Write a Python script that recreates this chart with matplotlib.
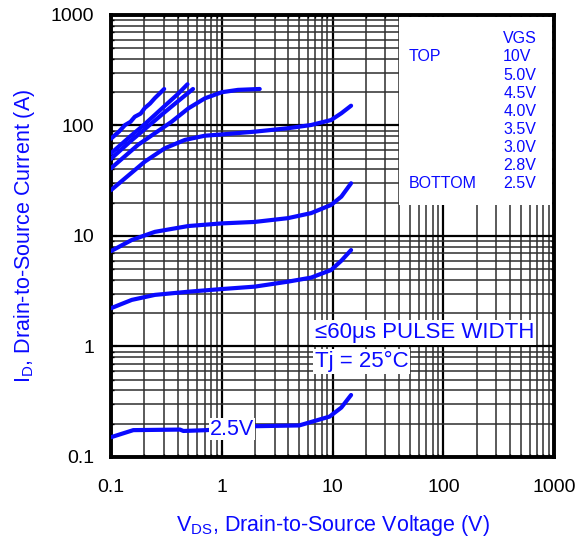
import matplotlib
matplotlib.use("Agg")
import matplotlib.pyplot as plt
from matplotlib.ticker import LogLocator, FuncFormatter
from matplotlib.patches import Rectangle

plt.rcParams["font.family"] = ["Liberation Sans", "DejaVu Sans"]

BLUE = "#0a0aff"

# output characteristics
vgs_labels = ["10V", "5.0V", "4.5V", "4.0V", "3.5V", "3.0V", "2.8V", "2.5V"]

vds_10 = [0.1, 0.118, 0.134, 0.15, 0.164, 0.185, 0.202, 0.225, 0.249, 0.275, 0.302]
id_10 = [76, 88, 101, 108, 120, 128, 144, 158, 177, 195, 214]

vds_50 = [0.1, 0.15, 0.2, 0.3, 0.4, 0.49]
id_50 = [56, 80, 102, 148, 192, 236]

vds_45 = [0.1, 0.15, 0.2, 0.3, 0.4, 0.55]
id_45 = [50, 72, 92, 130, 165, 214]

vds_40 = [0.1, 0.176, 0.352, 0.5, 0.703, 1.0, 1.4, 2.2]
id_40 = [41, 67, 108, 143, 176, 200, 210, 214]

vds_35 = [0.1, 0.134, 0.202, 0.306, 0.464, 0.703, 1.0, 1.98, 3.95, 6.4, 9.7, 12.0, 14.7]
id_35 = [26, 33.3, 47.1, 62.2, 74, 80.8, 83, 87.9, 94.4, 101, 112, 129, 151]

vds_30 = [0.1, 0.154, 0.249, 0.497, 1.0, 1.98, 3.95, 6.4, 9.7, 12.0, 14.7]
id_30 = [7.3, 9.2, 10.9, 12.3, 13.0, 13.4, 14.5, 16.1, 19.1, 22.7, 30]

vds_28 = [0.1, 0.154, 0.249, 0.497, 1.0, 1.98, 3.95, 6.4, 9.7, 12.0, 14.7]
id_28 = [2.22, 2.64, 2.93, 3.13, 3.31, 3.48, 3.86, 4.2, 4.92, 5.97, 7.46]

vds_25 = [0.1, 0.159, 0.42, 0.45, 0.73, 2.05, 5.0, 9.4, 12.0, 14.7]
id_25 = [0.151, 0.175, 0.177, 0.172, 0.175, 0.19, 0.193, 0.232, 0.28, 0.364]

curves = [
    (vds_10, id_10), (vds_50, id_50), (vds_45, id_45), (vds_40, id_40),
    (vds_35, id_35), (vds_30, id_30), (vds_28, id_28), (vds_25, id_25),
]

fig = plt.figure(figsize=(5.79, 5.43), dpi=100)
ax = fig.add_axes([0.1917, 0.1584, 0.7653, 0.814])

for vds, current in curves:
    ax.plot(vds, current, color=BLUE, lw=3.0, solid_capstyle="round",
            solid_joinstyle="round", zorder=4)

ax.set_xscale("log")
ax.set_yscale("log")
ax.set_xlim(0.1, 1000)
ax.set_ylim(0.1, 1000)

ax.xaxis.set_minor_locator(LogLocator(base=10, subs=range(2, 10), numticks=20))
ax.yaxis.set_minor_locator(LogLocator(base=10, subs=range(2, 10), numticks=20))
fmt = FuncFormatter(lambda v, p: "%g" % v)
ax.xaxis.set_major_formatter(fmt)
ax.yaxis.set_major_formatter(fmt)

ax.grid(True, which="major", color="black", lw=1.6, zorder=1)
ax.grid(True, which="minor", color="#2e2e2e", lw=1.1, zorder=1)
ax.set_axisbelow(True)

for side in ax.spines.values():
    side.set_linewidth(2.8)
ax.tick_params(which="both", direction="in", top=True, right=True, labelsize=14)
ax.tick_params(axis="x", pad=16)
ax.tick_params(axis="y", pad=12)
ax.tick_params(which="major", length=4, width=1.5)
ax.tick_params(which="minor", length=2, width=1)

# legend block in the upper right corner
ax.add_patch(Rectangle((0.65, 0.57), 0.345, 0.425, transform=ax.transAxes,
                       facecolor="white", edgecolor="none", zorder=3))
ax.text(0.885, 0.947, "VGS", transform=ax.transAxes, color=BLUE, fontsize=11.5,
        va="center", ha="left", zorder=5)
ax.text(0.672, 0.905, "TOP", transform=ax.transAxes, color=BLUE, fontsize=11.5,
        va="center", ha="left", zorder=5)
ax.text(0.672, 0.619, "BOTTOM", transform=ax.transAxes, color=BLUE, fontsize=11.5,
        va="center", ha="left", zorder=5)
for i, lab in enumerate(vgs_labels):
    ax.text(0.885, 0.905 - i * 0.0408, lab, transform=ax.transAxes, color=BLUE,
            fontsize=11.5, va="center", ha="left", zorder=5)

box = dict(facecolor="white", edgecolor="none", pad=1.5)
ax.text(0.460, 0.282, "\u226460\u03bcs PULSE WIDTH", transform=ax.transAxes,
        color=BLUE, fontsize=16, va="center", ha="left", bbox=box, zorder=5)
ax.text(0.460, 0.216, "Tj = 25\u00b0C", transform=ax.transAxes,
        color=BLUE, fontsize=16, va="center", ha="left", bbox=box, zorder=5)
ax.text(1.23, 0.178, "2.5V", color=BLUE, fontsize=15.5, va="center", ha="center",
        bbox=dict(facecolor="white", edgecolor="none", pad=0.5), zorder=5)

ax.set_xlabel("V$_{\\mathregular{DS}}$, Drain-to-Source Voltage (V)", color=BLUE,
              fontsize=15.5, labelpad=12)
ax.set_ylabel("I$_{\\mathregular{D}}$, Drain-to-Source Current (A)", color=BLUE,
              fontsize=15.5, labelpad=10)

fig.savefig("out.png", dpi=100)
